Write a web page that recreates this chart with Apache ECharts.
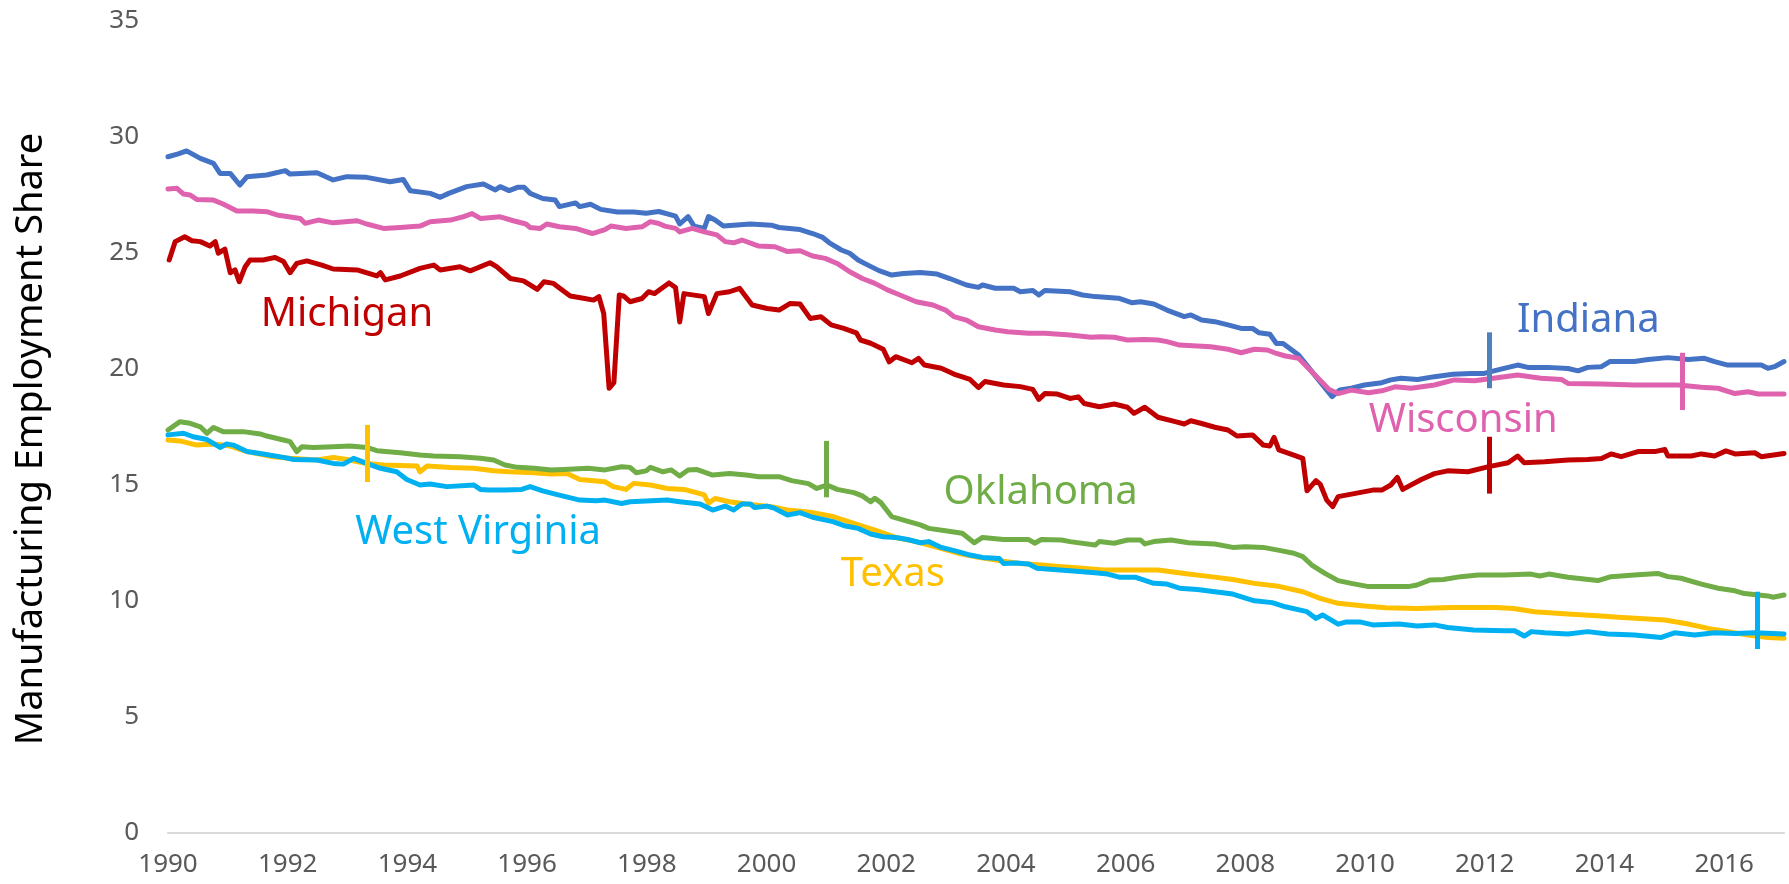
<!DOCTYPE html>
<html>
<head>
<meta charset="utf-8">
<script src="https://cdn.jsdelivr.net/npm/echarts@6/dist/echarts.min.js"></script>
<style>
  html, body { margin: 0; padding: 0; background: #fff; }
  #chart { width: 1789px; height: 884px; }
</style>
</head>
<body>
<div id="chart"></div>
<script>
// [year, share %]
var indiana = [[1990.00,29.15],[1990.17,29.27],[1990.31,29.40],[1990.54,29.08],[1990.76,28.86],[1990.87,28.43],[1991.04,28.43],[1991.20,27.93],[1991.32,28.29],[1991.65,28.36],[1991.96,28.55],[1992.04,28.40],[1992.49,28.46],[1992.76,28.15],[1992.99,28.29],[1993.32,28.26],[1993.71,28.07],[1993.93,28.17],[1994.05,27.68],[1994.38,27.57],[1994.55,27.40],[1994.69,27.57],[1994.99,27.86],[1995.27,27.97],[1995.47,27.72],[1995.55,27.86],[1995.70,27.69],[1995.84,27.83],[1995.95,27.83],[1996.05,27.57],[1996.26,27.35],[1996.47,27.28],[1996.54,27.00],[1996.81,27.16],[1996.88,27.00],[1997.06,27.10],[1997.23,26.88],[1997.51,26.77],[1997.78,26.77],[1997.99,26.71],[1998.20,26.79],[1998.48,26.59],[1998.55,26.25],[1998.69,26.57],[1998.79,26.16],[1998.96,26.06],[1999.03,26.57],[1999.14,26.42],[1999.28,26.16],[1999.73,26.25],[2000.08,26.20],[2000.21,26.10],[2000.56,26.01],[2000.77,25.84],[2000.94,25.67],[2001.05,25.44],[2001.25,25.13],[2001.39,24.99],[2001.53,24.70],[2001.67,24.51],[2001.88,24.24],[2002.09,24.05],[2002.29,24.12],[2002.57,24.16],[2002.85,24.09],[2003.06,23.90],[2003.34,23.62],[2003.54,23.52],[2003.61,23.62],[2003.82,23.48],[2004.13,23.48],[2004.24,23.33],[2004.45,23.38],[2004.55,23.19],[2004.65,23.38],[2005.07,23.33],[2005.28,23.19],[2005.49,23.12],[2005.88,23.05],[2006.10,22.86],[2006.25,22.90],[2006.47,22.80],[2006.69,22.54],[2006.98,22.26],[2007.09,22.33],[2007.27,22.11],[2007.49,22.04],[2007.71,21.90],[2007.93,21.75],[2008.12,21.75],[2008.23,21.56],[2008.41,21.50],[2008.52,21.10],[2008.63,21.10],[2008.89,20.60],[2009.18,19.67],[2009.45,18.81],[2009.58,19.10],[2009.77,19.17],[2009.99,19.31],[2010.28,19.41],[2010.43,19.53],[2010.60,19.60],[2010.88,19.55],[2011.16,19.67],[2011.47,19.77],[2011.77,19.81],[2011.99,19.81],[2012.22,19.96],[2012.55,20.17],[2012.72,20.07],[2013.05,20.07],[2013.39,20.02],[2013.56,19.92],[2013.72,20.07],[2013.95,20.10],[2014.09,20.32],[2014.50,20.32],[2014.73,20.41],[2015.06,20.49],[2015.40,20.41],[2015.67,20.46],[2015.84,20.32],[2016.06,20.17],[2016.34,20.17],[2016.62,20.17],[2016.73,20.03],[2016.84,20.10],[2017.00,20.32]];

var wisconsin = [[1990.00,27.76],[1990.15,27.79],[1990.26,27.54],[1990.37,27.50],[1990.48,27.31],[1990.76,27.28],[1990.92,27.11],[1991.15,26.81],[1991.43,26.81],[1991.65,26.78],[1991.82,26.64],[1992.21,26.49],[1992.29,26.28],[1992.51,26.42],[1992.76,26.30],[1993.16,26.39],[1993.32,26.25],[1993.60,26.06],[1993.88,26.10],[1994.21,26.16],[1994.38,26.35],[1994.72,26.42],[1994.94,26.57],[1995.08,26.70],[1995.22,26.49],[1995.55,26.56],[1995.77,26.39],[1995.98,26.25],[1996.05,26.10],[1996.22,26.06],[1996.33,26.25],[1996.54,26.13],[1996.81,26.06],[1997.09,25.84],[1997.30,26.01],[1997.40,26.16],[1997.65,26.06],[1997.92,26.13],[1998.06,26.35],[1998.20,26.27],[1998.30,26.16],[1998.48,26.06],[1998.55,25.91],[1998.76,26.06],[1998.96,25.91],[1999.17,25.78],[1999.31,25.49],[1999.45,25.44],[1999.59,25.56],[1999.87,25.30],[2000.14,25.27],[2000.35,25.06],[2000.56,25.10],[2000.77,24.87],[2000.98,24.77],[2001.18,24.55],[2001.39,24.19],[2001.60,23.90],[2001.81,23.69],[2002.02,23.41],[2002.23,23.19],[2002.50,22.90],[2002.78,22.76],[2002.99,22.54],[2003.13,22.26],[2003.34,22.11],[2003.54,21.82],[2003.82,21.68],[2004.03,21.61],[2004.38,21.54],[2004.65,21.54],[2005.07,21.47],[2005.42,21.37],[2005.59,21.39],[2005.81,21.37],[2006.03,21.25],[2006.32,21.27],[2006.54,21.25],[2006.69,21.18],[2006.90,21.03],[2007.20,20.99],[2007.42,20.96],[2007.71,20.85],[2007.93,20.70],[2008.15,20.85],[2008.37,20.82],[2008.52,20.67],[2008.67,20.56],[2008.89,20.46],[2009.11,19.88],[2009.40,19.12],[2009.55,18.94],[2009.77,19.09],[2010.06,18.98],[2010.28,19.06],[2010.50,19.23],[2010.77,19.17],[2011.16,19.31],[2011.49,19.53],[2011.83,19.49],[2012.55,19.74],[2012.94,19.60],[2013.28,19.55],[2013.39,19.38],[2013.95,19.35],[2014.50,19.31],[2015.23,19.31],[2015.62,19.21],[2015.90,19.17],[2016.18,18.94],[2016.40,19.02],[2016.57,18.92],[2017.00,18.92]];

var michigan = [[1990.02,24.70],[1990.12,25.49],[1990.28,25.70],[1990.40,25.53],[1990.54,25.49],[1990.70,25.30],[1990.79,25.49],[1990.84,24.99],[1990.95,25.17],[1991.04,24.15],[1991.12,24.27],[1991.19,23.76],[1991.29,24.41],[1991.37,24.70],[1991.59,24.70],[1991.79,24.81],[1991.93,24.63],[1992.04,24.15],[1992.15,24.55],[1992.32,24.66],[1992.57,24.48],[1992.76,24.31],[1993.16,24.27],[1993.49,24.01],[1993.55,24.15],[1993.63,23.84],[1993.88,24.01],[1994.21,24.34],[1994.44,24.48],[1994.55,24.27],[1994.88,24.41],[1995.05,24.23],[1995.38,24.58],[1995.49,24.41],[1995.72,23.90],[1995.94,23.80],[1996.17,23.43],[1996.28,23.76],[1996.44,23.69],[1996.72,23.15],[1996.94,23.05],[1997.11,22.97],[1997.20,23.12],[1997.28,22.39],[1997.37,19.17],[1997.45,19.41],[1997.54,23.19],[1997.61,23.15],[1997.72,22.90],[1997.92,23.04],[1998.03,23.33],[1998.13,23.25],[1998.37,23.71],[1998.48,23.51],[1998.55,22.03],[1998.62,23.25],[1998.96,23.12],[1999.03,22.39],[1999.17,23.25],[1999.38,23.33],[1999.55,23.48],[1999.76,22.76],[2000.01,22.61],[2000.21,22.54],[2000.39,22.82],[2000.56,22.80],[2000.73,22.18],[2000.91,22.25],[2001.08,21.90],[2001.29,21.75],[2001.50,21.56],[2001.57,21.25],[2001.74,21.11],[2001.95,20.85],[2002.05,20.31],[2002.16,20.53],[2002.43,20.27],[2002.54,20.46],[2002.64,20.17],[2002.92,20.03],[2003.13,19.78],[2003.40,19.55],[2003.54,19.20],[2003.65,19.46],[2003.96,19.31],[2004.24,19.24],[2004.45,19.12],[2004.55,18.69],[2004.65,18.94],[2004.86,18.92],[2005.07,18.73],[2005.21,18.80],[2005.31,18.51],[2005.56,18.37],[2005.81,18.49],[2006.03,18.35],[2006.14,18.09],[2006.32,18.35],[2006.54,17.92],[2006.83,17.73],[2006.98,17.63],[2007.09,17.77],[2007.27,17.65],[2007.49,17.49],[2007.71,17.37],[2007.86,17.11],[2008.12,17.16],[2008.30,16.72],[2008.41,16.68],[2008.48,17.05],[2008.56,16.51],[2008.81,16.29],[2008.96,16.15],[2009.03,14.75],[2009.18,15.19],[2009.25,15.04],[2009.36,14.35],[2009.46,14.07],[2009.55,14.50],[2009.84,14.64],[2010.13,14.78],[2010.28,14.78],[2010.43,15.00],[2010.54,15.33],[2010.63,14.81],[2010.94,15.24],[2011.16,15.49],[2011.38,15.61],[2011.72,15.57],[2012.05,15.78],[2012.39,15.96],[2012.55,16.25],[2012.66,15.96],[2013.00,16.00],[2013.39,16.08],[2013.72,16.10],[2013.95,16.14],[2014.11,16.34],[2014.28,16.22],[2014.56,16.44],[2014.84,16.44],[2015.01,16.53],[2015.06,16.25],[2015.45,16.25],[2015.62,16.34],[2015.84,16.25],[2016.03,16.47],[2016.18,16.34],[2016.51,16.39],[2016.62,16.22],[2017.00,16.36]];

var oklahoma = [[1990.00,17.37],[1990.20,17.73],[1990.37,17.66],[1990.54,17.51],[1990.65,17.23],[1990.76,17.48],[1990.92,17.30],[1991.26,17.30],[1991.54,17.20],[1991.65,17.11],[1991.93,16.94],[1992.04,16.87],[1992.15,16.44],[1992.24,16.65],[1992.43,16.62],[1992.76,16.65],[1993.04,16.68],[1993.32,16.62],[1993.49,16.48],[1993.88,16.39],[1994.21,16.29],[1994.44,16.25],[1994.88,16.22],[1995.22,16.15],[1995.44,16.08],[1995.63,15.86],[1995.84,15.76],[1996.12,15.72],[1996.40,15.65],[1996.61,15.67],[1997.02,15.72],[1997.30,15.65],[1997.58,15.79],[1997.72,15.76],[1997.82,15.53],[1997.99,15.61],[1998.06,15.76],[1998.27,15.57],[1998.41,15.65],[1998.55,15.39],[1998.69,15.65],[1998.83,15.67],[1999.10,15.43],[1999.38,15.50],[1999.66,15.43],[1999.87,15.36],[2000.21,15.36],[2000.42,15.19],[2000.70,15.06],[2000.84,14.85],[2001.01,15.00],[2001.18,14.81],[2001.46,14.67],[2001.60,14.53],[2001.74,14.28],[2001.81,14.43],[2001.91,14.24],[2002.09,13.64],[2002.29,13.49],[2002.57,13.28],[2002.71,13.13],[2002.99,13.03],[2003.27,12.92],[2003.47,12.51],[2003.61,12.74],[2003.96,12.65],[2004.38,12.65],[2004.48,12.49],[2004.59,12.65],[2004.93,12.63],[2005.07,12.56],[2005.49,12.41],[2005.56,12.56],[2005.81,12.49],[2006.03,12.63],[2006.25,12.63],[2006.32,12.46],[2006.47,12.56],[2006.76,12.63],[2007.05,12.51],[2007.49,12.46],[2007.79,12.31],[2008.00,12.34],[2008.30,12.31],[2008.59,12.17],[2008.81,12.06],[2008.96,11.91],[2009.11,11.55],[2009.33,11.19],[2009.55,10.88],[2009.77,10.76],[2010.06,10.62],[2010.72,10.62],[2010.87,10.69],[2011.09,10.91],[2011.31,10.93],[2011.60,11.05],[2011.89,11.12],[2012.33,11.12],[2012.77,11.16],[2012.92,11.08],[2013.07,11.16],[2013.39,11.02],[2013.89,10.88],[2014.11,11.05],[2014.50,11.12],[2014.89,11.19],[2015.06,11.05],[2015.28,10.98],[2015.62,10.73],[2015.90,10.55],[2016.18,10.44],[2016.34,10.32],[2016.73,10.22],[2016.82,10.16],[2017.00,10.26]];

var texas = [[1990.00,16.94],[1990.20,16.90],[1990.48,16.72],[1990.76,16.77],[1991.04,16.68],[1991.32,16.44],[1991.76,16.22],[1992.04,16.15],[1992.49,16.08],[1992.76,16.19],[1992.99,16.10],[1993.32,15.93],[1993.60,15.86],[1994.16,15.82],[1994.21,15.57],[1994.33,15.82],[1994.72,15.75],[1995.11,15.72],[1995.44,15.61],[1995.70,15.57],[1996.12,15.53],[1996.40,15.47],[1996.67,15.50],[1996.88,15.24],[1997.30,15.14],[1997.44,14.93],[1997.65,14.81],[1997.78,15.07],[1998.06,15.00],[1998.34,14.85],[1998.62,14.81],[1998.83,14.67],[1998.96,14.57],[1999.03,14.21],[1999.14,14.42],[1999.38,14.28],[1999.66,14.18],[2000.08,14.06],[2000.35,13.92],[2000.77,13.81],[2001.11,13.64],[2001.46,13.35],[2001.81,13.06],[2002.16,12.74],[2002.50,12.56],[2002.85,12.31],[2003.20,12.06],[2003.54,11.88],[2003.89,11.74],[2004.24,11.62],[2004.59,11.55],[2004.93,11.48],[2005.28,11.41],[2005.63,11.34],[2006.54,11.34],[2007.05,11.16],[2007.42,11.05],[2007.79,10.93],[2008.15,10.76],[2008.52,10.65],[2008.96,10.40],[2009.25,10.11],[2009.55,9.90],[2009.99,9.78],[2010.35,9.71],[2010.87,9.68],[2011.45,9.72],[2012.19,9.72],[2012.48,9.68],[2012.83,9.54],[2013.39,9.44],[2013.95,9.35],[2014.23,9.30],[2015.01,9.18],[2015.40,9.01],[2015.73,8.82],[2016.07,8.68],[2016.40,8.53],[2016.73,8.43],[2017.00,8.39]];

var westVirginia = [[1990.00,17.16],[1990.26,17.23],[1990.42,17.08],[1990.65,16.96],[1990.87,16.62],[1990.98,16.77],[1991.09,16.72],[1991.32,16.44],[1991.59,16.34],[1991.93,16.19],[1992.10,16.10],[1992.49,16.08],[1992.76,15.93],[1992.93,15.90],[1993.10,16.15],[1993.32,15.93],[1993.55,15.72],[1993.82,15.57],[1993.99,15.24],[1994.21,15.00],[1994.38,15.04],[1994.66,14.93],[1995.11,15.00],[1995.22,14.81],[1995.36,14.78],[1995.63,14.78],[1995.91,14.81],[1996.05,14.93],[1996.26,14.75],[1996.47,14.61],[1996.88,14.35],[1997.16,14.32],[1997.30,14.35],[1997.58,14.20],[1997.72,14.28],[1998.34,14.35],[1998.55,14.28],[1998.89,14.18],[1999.10,13.92],[1999.31,14.09],[1999.45,13.92],[1999.59,14.18],[1999.73,14.18],[1999.80,14.03],[2000.01,14.09],[2000.14,13.99],[2000.35,13.71],[2000.56,13.81],[2000.77,13.61],[2001.11,13.42],[2001.32,13.23],[2001.53,13.13],[2001.74,12.89],[2001.95,12.77],[2002.16,12.74],[2002.36,12.65],[2002.57,12.51],[2002.71,12.56],[2002.92,12.31],[2003.20,12.13],[2003.40,11.98],[2003.61,11.88],[2003.89,11.83],[2003.96,11.62],[2004.17,11.64],[2004.38,11.59],[2004.52,11.41],[2004.79,11.36],[2005.07,11.30],[2005.49,11.22],[2005.70,11.16],[2005.91,11.02],[2006.17,11.02],[2006.47,10.76],[2006.69,10.73],[2006.90,10.55],[2007.20,10.50],[2007.49,10.40],[2007.79,10.30],[2008.15,10.01],[2008.45,9.93],[2008.67,9.75],[2009.03,9.54],[2009.18,9.25],[2009.29,9.40],[2009.55,9.00],[2009.69,9.10],[2009.91,9.10],[2010.13,8.97],[2010.57,9.01],[2010.87,8.92],[2011.16,8.97],[2011.38,8.86],[2011.82,8.75],[2012.33,8.72],[2012.50,8.72],[2012.66,8.49],[2012.78,8.68],[2013.00,8.63],[2013.39,8.58],[2013.72,8.68],[2014.06,8.58],[2014.50,8.53],[2014.95,8.43],[2015.17,8.63],[2015.51,8.53],[2015.84,8.63],[2016.18,8.60],[2016.51,8.63],[2017.00,8.58]];

// vertical event bars: [state, year, low, high]
var eventBars = [
  ["Texas", 1993.33, 15.13, 17.59],
  ["Oklahoma", 2001.0, 14.47, 16.9],
  ["Indiana", 2012.07, 19.17, 21.58],
  ["Michigan", 2012.07, 14.63, 17.08],
  ["Wisconsin", 2015.3, 18.23, 20.7],
  ["West Virginia", 2016.56, 7.93, 10.4]
];

// state name labels: [state, year, value]
var stateLabels = [
  ["Michigan", 1992.99, 22.33],
  ["Indiana", 2013.73, 22.07],
  ["Wisconsin", 2011.64, 17.76],
  ["Oklahoma", 2004.58, 14.66],
  ["Texas", 2002.11, 11.14],
  ["West Virginia", 1995.18, 12.95]
];

var xTicks = [1990, 1992, 1994, 1996, 1998, 2000, 2002, 2004, 2006, 2008, 2010, 2012, 2014, 2016];

var states = ["Texas", "Oklahoma", "Indiana", "Michigan", "Wisconsin", "West Virginia"];
var stateData = {
  "Texas": texas,
  "Oklahoma": oklahoma,
  "Indiana": indiana,
  "Michigan": michigan,
  "Wisconsin": wisconsin,
  "West Virginia": westVirginia
};
var stateColors = {
  "Texas": "#ffc000",
  "Oklahoma": "#70ad47",
  "Indiana": "#4472c4",
  "Michigan": "#c00000",
  "Wisconsin": "#de62ae",
  "West Virginia": "#00b0f0"
};
var barColors = {
  "Indiana": "#4f81bd"
};

var font = "Noto Sans";

var chart = echarts.init(document.getElementById("chart"));

var series = states.map(function (name) {
  var bar = eventBars.filter(function (b) { return b[0] === name; })[0];
  var lab = stateLabels.filter(function (l) { return l[0] === name; })[0];
  return {
    name: name,
    type: "line",
    data: stateData[name],
    showSymbol: false,
    symbol: "none",
    silent: true,
    lineStyle: {
      color: stateColors[name],
      width: 5,
      cap: "round",
      join: "round"
    },
    itemStyle: { color: stateColors[name] },
    markLine: {
      silent: true,
      symbol: ["none", "none"],
      label: { show: false },
      lineStyle: {
        color: barColors[name] || stateColors[name],
        width: 5,
        type: "solid"
      },
      data: [[{ coord: [bar[1], bar[2]] }, { coord: [bar[1], bar[3]] }]]
    },
    markPoint: {
      silent: true,
      symbol: "rect",
      symbolSize: 1,
      itemStyle: { color: "rgba(0,0,0,0)" },
      label: {
        show: true,
        position: "inside",
        formatter: "{b}",
        color: stateColors[name],
        fontSize: 40,
        fontFamily: font
      },
      data: [{ name: lab[0], coord: [lab[1], lab[2]] }]
    }
  };
});

chart.setOption({
  animation: false,
  backgroundColor: "#ffffff",
  grid: {
    left: 168,
    right: 5,
    top: 21,
    bottom: 51
  },
  xAxis: {
    type: "value",
    min: 1990,
    max: 2017,
    interval: 2,
    axisLine: {
      show: true,
      lineStyle: { color: "#d9d9d9", width: 2 }
    },
    axisTick: { show: false },
    splitLine: { show: false },
    axisLabel: {
      color: "#595959",
      fontSize: 26,
      fontFamily: font,
      margin: 19,
      showMaxLabel: false,
      formatter: function (v) {
        return xTicks.indexOf(v) >= 0 ? String(v) : "";
      }
    }
  },
  yAxis: {
    type: "value",
    min: 0,
    max: 35,
    interval: 5,
    axisLine: { show: false },
    axisTick: { show: false },
    splitLine: { show: false },
    axisLabel: {
      color: "#595959",
      fontSize: 26,
      fontFamily: font,
      margin: 29
    }
  },
  graphic: [
    {
      type: "text",
      x: 31,
      y: 439,
      rotation: Math.PI / 2,
      style: {
        text: "Manufacturing Employment Share",
        font: "38px 'Noto Sans'",
        fill: "#000000",
        align: "center",
        verticalAlign: "middle"
      }
    }
  ],
  series: series
});
</script>
</body>
</html>
